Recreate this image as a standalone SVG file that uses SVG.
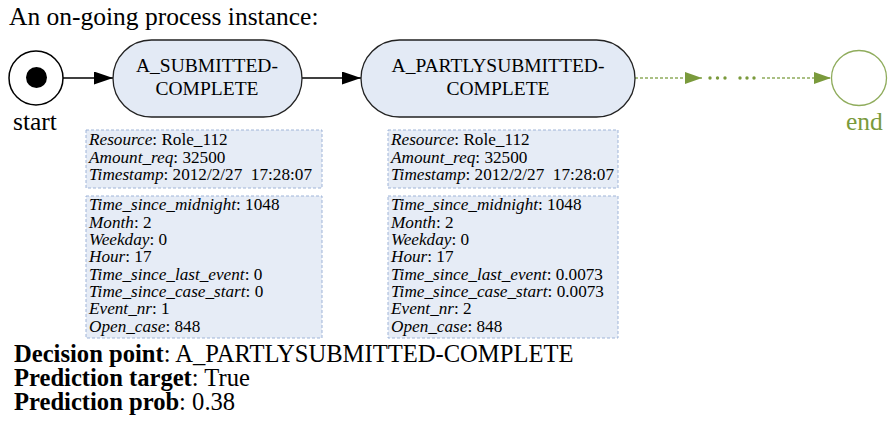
<svg xmlns="http://www.w3.org/2000/svg" width="891" height="426" viewBox="0 0 891 426">
<defs>
<style>
text{font-family:"Liberation Serif","Times New Roman",serif;fill:#000}
.lbl{font-size:25.5px}
.nt{font-size:19.5px;text-anchor:middle}
.bt{font-size:17.2px}
.bt tspan.k{font-style:italic}
.ft{font-size:24.6px}
.node{fill:#e3eaf5;stroke:#222;stroke-width:1.3}
.box{fill:#e6ecf6;stroke:#9fb4d8;stroke-width:1;stroke-dasharray:3 2}
.edge{stroke:#000;stroke-width:1.4;fill:none}
.gedge{stroke:#8fac5c;stroke-width:1.3;fill:none;stroke-dasharray:3 2}
.green{fill:#7a9a3c}
</style>
<marker id="ah" markerWidth="19" markerHeight="13" refX="19" refY="6.5" orient="auto" markerUnits="userSpaceOnUse">
<path d="M0,0 L19,6.5 L0,13 z" fill="#000"/>
</marker>
<marker id="gah" markerWidth="17" markerHeight="12" refX="17" refY="6" orient="auto" markerUnits="userSpaceOnUse">
<path d="M0,0 L17,6 L0,12 z" fill="#7a9a3c"/>
</marker>
</defs>
<rect width="891" height="426" fill="#fff"/>
<text class="lbl" x="9" y="25">An on-going process instance:</text>

<g id="connectors">
<line class="edge" x1="63" y1="78" x2="113" y2="78" marker-end="url(#ah)"/>
<line class="edge" x1="302" y1="78" x2="361" y2="78" marker-end="url(#ah)"/>
<line class="gedge" x1="635" y1="78" x2="702" y2="78" marker-end="url(#gah)"/>
<g fill="#7a9a3c">
<circle cx="710" cy="78" r="1.7"/><circle cx="717.5" cy="78" r="1.7"/><circle cx="725" cy="78" r="1.7"/>
<circle cx="740" cy="78" r="1.7"/><circle cx="747" cy="78" r="1.7"/><circle cx="754" cy="78" r="1.7"/>
</g>
<line class="gedge" x1="762" y1="78" x2="831" y2="78" marker-end="url(#gah)"/>
</g>

<g id="start">
<circle cx="36" cy="78" r="27" fill="#fff" stroke="#000" stroke-width="1.5"/>
<circle cx="36.5" cy="77.5" r="10.5" fill="#000"/>
<text class="lbl" x="13" y="130">start</text>
</g>

<g id="node1">
<rect class="node" x="113" y="40" width="189" height="77" rx="38.5"/>
<text class="nt" x="207" y="72">A_SUBMITTED-</text>
<text class="nt" x="207" y="95">COMPLETE</text>
</g>

<g id="node2">
<rect class="node" x="361" y="40" width="274" height="77" rx="38.5"/>
<text class="nt" x="498" y="72">A_PARTLYSUBMITTED-</text>
<text class="nt" x="498" y="95">COMPLETE</text>
</g>

<g id="end">
<circle cx="859" cy="78" r="27.5" fill="#fff" stroke="#8fac5c" stroke-width="1.3"/>
<text class="lbl green" x="846" y="130">end</text>
</g>

<g id="info1">
<rect class="box" x="86" y="130" width="236" height="58"/>
<text class="bt" x="89" y="145"><tspan class="k">Resource</tspan>: Role_112</text>
<text class="bt" x="89" y="162.5"><tspan class="k">Amount_req</tspan>: 32500</text>
<text class="bt" x="89" y="180"><tspan class="k">Timestamp</tspan>: 2012/2/27&#160; 17:28:07</text>
<rect class="box" x="86" y="196" width="236" height="142"/>
<text class="bt" x="89" y="210"><tspan class="k">Time_since_midnight</tspan>: 1048</text>
<text class="bt" x="89" y="227.5"><tspan class="k">Month</tspan>: 2</text>
<text class="bt" x="89" y="245"><tspan class="k">Weekday</tspan>: 0</text>
<text class="bt" x="89" y="262"><tspan class="k">Hour</tspan>: 17</text>
<text class="bt" x="89" y="279.5"><tspan class="k">Time_since_last_event</tspan>: 0</text>
<text class="bt" x="89" y="297"><tspan class="k">Time_since_case_start</tspan>: 0</text>
<text class="bt" x="89" y="314"><tspan class="k">Event_nr</tspan>: 1</text>
<text class="bt" x="89" y="331.5"><tspan class="k">Open_case</tspan>: 848</text>
</g>

<g id="info2">
<rect class="box" x="388" y="130" width="230" height="58"/>
<text class="bt" x="391" y="145"><tspan class="k">Resource</tspan>: Role_112</text>
<text class="bt" x="391" y="162.5"><tspan class="k">Amount_req</tspan>: 32500</text>
<text class="bt" x="391" y="180"><tspan class="k">Timestamp</tspan>: 2012/2/27&#160; 17:28:07</text>
<rect class="box" x="388" y="196" width="230" height="142"/>
<text class="bt" x="391" y="210"><tspan class="k">Time_since_midnight</tspan>: 1048</text>
<text class="bt" x="391" y="227.5"><tspan class="k">Month</tspan>: 2</text>
<text class="bt" x="391" y="245"><tspan class="k">Weekday</tspan>: 0</text>
<text class="bt" x="391" y="262"><tspan class="k">Hour</tspan>: 17</text>
<text class="bt" x="391" y="279.5"><tspan class="k">Time_since_last_event</tspan>: 0.0073</text>
<text class="bt" x="391" y="297"><tspan class="k">Time_since_case_start</tspan>: 0.0073</text>
<text class="bt" x="391" y="314"><tspan class="k">Event_nr</tspan>: 2</text>
<text class="bt" x="391" y="331.5"><tspan class="k">Open_case</tspan>: 848</text>
</g>

<g id="summary">
<text class="ft" x="14" y="362"><tspan font-weight="bold">Decision point</tspan>: A_PARTLYSUBMITTED-COMPLETE</text>
<text class="ft" x="14" y="386"><tspan font-weight="bold">Prediction target</tspan>: True</text>
<text class="ft" x="14" y="410"><tspan font-weight="bold">Prediction prob</tspan>: 0.38</text>
</g>
</svg>
